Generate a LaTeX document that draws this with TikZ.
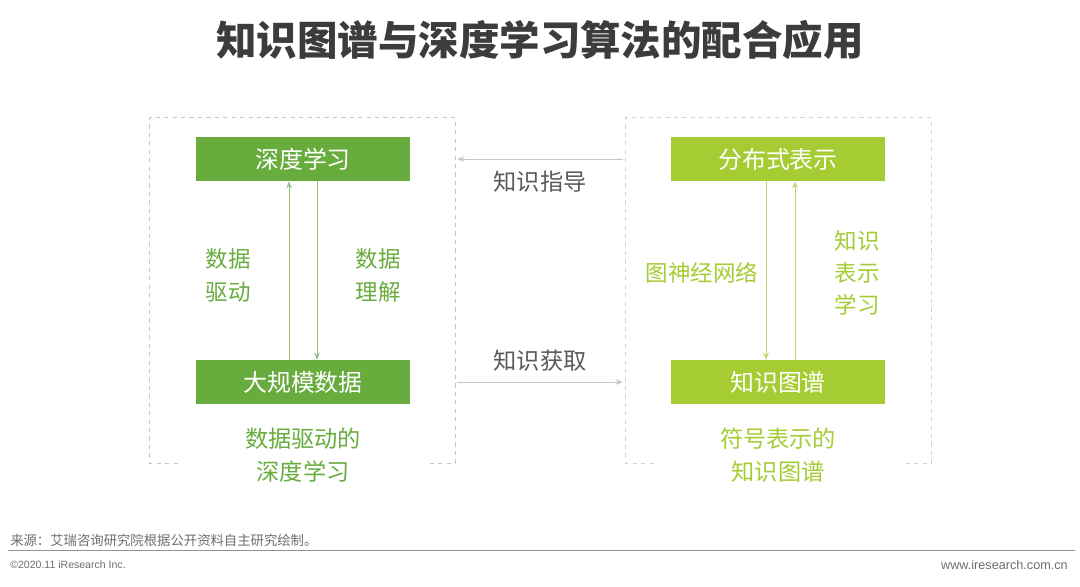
\documentclass[tikz,border=0pt]{standalone}
\usepackage{fontspec}
\setmainfont{Noto Sans CJK SC}
\newfontfamily\latinsans{Liberation Sans}
\usepackage{xcolor}
\usetikzlibrary{positioning, arrows.meta}

\definecolor{irgreen}{RGB}{104,172,62}
\definecolor{irlime}{RGB}{166,204,52}
\definecolor{irgreenline}{RGB}{150,190,130}
\definecolor{irlimeline}{RGB}{190,214,110}
\definecolor{irtitle}{RGB}{60,60,60}
\definecolor{irgray}{RGB}{110,110,110}

\begin{document}
\begin{tikzpicture}[
    box/.style={rectangle, minimum width=5.35cm, minimum height=1.1cm, inner sep=0pt, text=white, font=\fontsize{17}{20}\selectfont},
    framebox/.style={rectangle, minimum width=7.625cm, minimum height=8.625cm, inner sep=0pt},
    lbl/.style={align=center, font=\fontsize{16}{23.5}\selectfont},
    captext/.style={align=center, font=\fontsize{16.5}{24}\selectfont},
    flow/.style={line width=0.7pt, -{Stealth[length=5pt, width=4pt]}},
    foot/.style={text=irgray, font=\latinsans\fontsize{7.5}{9}\selectfont}
]
    % Canvas
    \fill[white] (0,0) rectangle (27,-14.65);
    \useasboundingbox (0,0) rectangle (27,-14.65);

    % Title
    \node[text=irtitle, font=\fontsize{28.8}{34}\selectfont\bfseries] (title) at (13.5,-1.0) {知识图谱与深度学习算法的配合应用};

    % Frames
    \node[framebox] (lframe) at (7.5625,-7.2625) {};
    \node[framebox] (rframe) at (19.4625,-7.2625) {};
    \draw[dashed, gray!45, line width=0.6pt] ([xshift=0.7cm]lframe.south west) -- (lframe.south west) -- (lframe.north west) -- (lframe.north east) -- (lframe.south east) -- ++(-0.675,0);
    \draw[dashed, irlimeline!55!gray!50, line width=0.6pt] ([xshift=0.7cm]rframe.south west) -- (rframe.south west) -- (rframe.north west) -- (rframe.north east) -- (rframe.south east) -- ++(-0.675,0);

    % Deep learning side
    \node[box, fill=irgreen] (dl) at (7.575,-3.975) {深度学习};
    \node[box, fill=irgreen] (data) at (7.575,-9.55) {大规模数据};
    \draw[flow, irgreenline] ([xshift=-0.35cm]data.north) -- ([xshift=-0.35cm]dl.south);
    \draw[flow, irgreenline] ([xshift=0.35cm]dl.south) -- ([xshift=0.35cm]data.north);
    \node[lbl, text=irgreen] (drive) at (5.7,-6.875) {数据\\驱动};
    \node[lbl, text=irgreen] (understand) at (9.45,-6.875) {数据\\理解};
    \node[captext, text=irgreen] (lcap) at (7.575,-11.375) {数据驱动的\\深度学习};

    % Knowledge graph side
    \node[box, fill=irlime] (dist) at (19.45,-3.975) {分布式表示};
    \node[box, fill=irlime] (kg) at (19.45,-9.55) {知识图谱};
    \draw[flow, irlimeline] ([xshift=-0.3cm]dist.south) -- ([xshift=-0.3cm]kg.north);
    \draw[flow, irlimeline] ([xshift=0.425cm]kg.north) -- ([xshift=0.425cm]dist.south);
    \node[lbl, text=irlime] (gnn) at (17.55,-6.825) {图神经网络};
    \node[lbl, text=irlime, font=\fontsize{16}{23}\selectfont] (krl) at (21.425,-6.825) {知识\\表示\\学习};
    \node[captext, text=irlime] (rcap) at (19.45,-11.375) {符号表示的\\知识图谱};

    % Between the two sides
    \draw[flow, gray!45] ([xshift=-0.075cm]rframe.west |- dl.center) -- ([xshift=0.05cm]lframe.east |- dl.center);
    \draw[flow, gray!45] ([xshift=0.05cm]lframe.east |- data.center) -- ([xshift=-0.075cm]rframe.west |- data.center);
    \node[captext, text=irtitle!85] (guide) at (13.5,-4.55) {知识指导};
    \node[captext, text=irtitle!85] (acquire) at (13.5,-9.025) {知识获取};

    % Footer
    \node[anchor=west, text=irgray, font=\fontsize{9.5}{11}\selectfont, inner sep=0pt] (source) at (0.25,-13.5) {来源：艾瑞咨询研究院根据公开资料自主研究绘制。};
    \coordinate (footl) at (0.2,-13.75);
    \coordinate (footr) at (26.875,-13.75);
    \draw[gray!85, line width=0.7pt] (footl) -- (footr);
    \node[foot, anchor=west, inner sep=0pt] (copy) at (0.25,-14.125) {©2020.11 iResearch Inc.};
    \node[foot, anchor=east, inner sep=0pt, font=\latinsans\fontsize{9}{10}\selectfont] (web) at (26.7,-14.125) {www.iresearch.com.cn};

\end{tikzpicture}
\end{document}
